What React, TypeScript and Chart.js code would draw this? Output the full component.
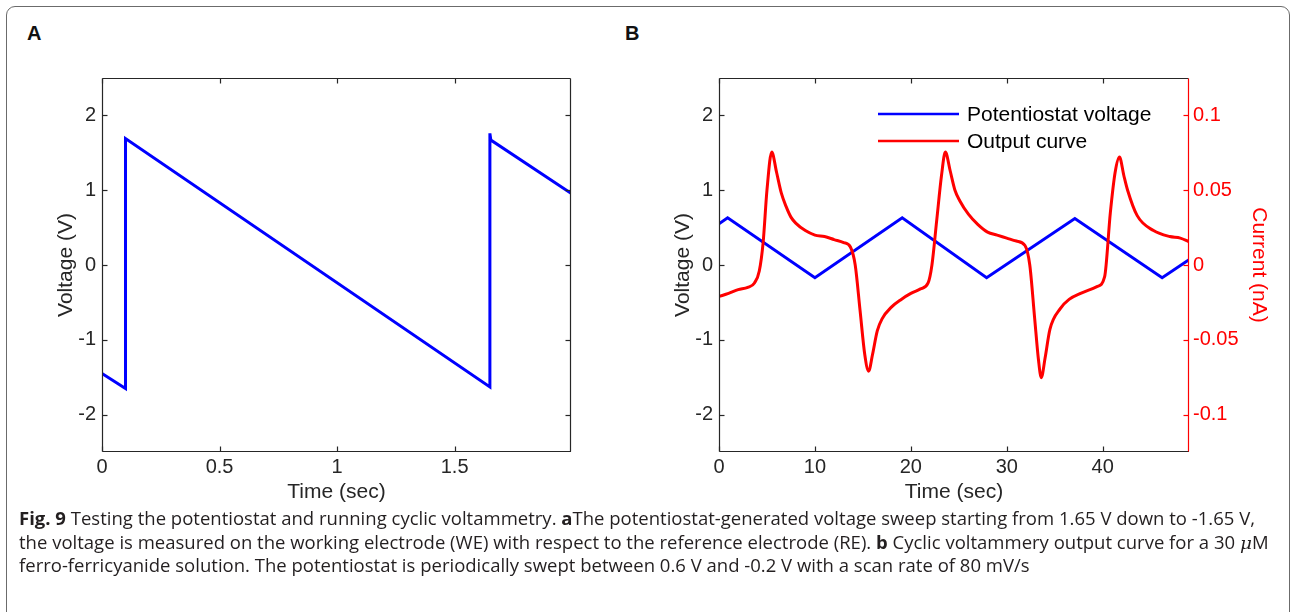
import React, { useEffect, useLayoutEffect, useRef } from 'react';
import { Chart, registerables } from 'chart.js';

Chart.register(...registerables);

// ---------- Panel A data ----------
const timeA = [0, 0.1, 0.1, 1.65, 1.65, 1.654, 1.995];
const voltA = [-1.45, -1.65, 1.69, -1.63, 1.76, 1.67, 0.96];
const xTicksA = [0, 0.5, 1, 1.5];
const xLabelsA = ['0', '0.5', '1', '1.5'];
const yTicksA = [-2, -1, 0, 1, 2];
const yLabelsA = ['-2', '-1', '0', '1', '2'];

// ---------- Panel B data ----------
const timeBV = [0, 0.9, 10, 19.1, 27.9, 37.1, 46.2, 49];
const voltB = [0.55, 0.63, -0.17, 0.63, -0.17, 0.62, -0.17, 0.07];
const timeBI = [0, 1, 2, 3, 3.7, 4.2, 4.6, 5.0, 5.5, 6.0, 6.5, 7.0, 7.5, 8.0, 9, 10, 11, 12, 13, 13.7,
  14.2, 14.7, 15.2, 15.6, 16.0, 16.5, 17, 18, 19, 20, 21, 21.8, 22.2, 22.7, 23.2, 23.6, 24.1, 24.6, 25.1, 26,
  27, 28, 29, 30, 31, 31.9, 32.4, 32.9, 33.3, 33.6, 34, 34.5, 35.6, 36.5, 37.7, 39.4, 40.2, 40.8, 41.3, 41.75,
  42.2, 42.6, 43.6, 45.3, 47, 48.1, 49];
const currentB = [-0.021, -0.019, -0.0165, -0.015, -0.012, -0.004, 0.015, 0.05, 0.0755, 0.062, 0.048, 0.039, 0.032, 0.028, 0.023, 0.02, 0.019, 0.017, 0.015, 0.012,
  0, -0.03, -0.06, -0.071, -0.06, -0.044, -0.036, -0.028, -0.023, -0.019, -0.016, -0.012, 0, 0.03, 0.06, 0.0755, 0.063, 0.05, 0.043, 0.034,
  0.027, 0.022, 0.02, 0.018, 0.016, 0.013, 0, -0.035, -0.063, -0.0753, -0.062, -0.043, -0.029, -0.023, -0.019, -0.0145, -0.008, 0.035, 0.062, 0.0722,
  0.06, 0.05, 0.033, 0.023, 0.019, 0.018, 0.0155];
const xTicksB = [0, 10, 20, 30, 40];
const xLabelsB = ['0', '10', '20', '30', '40'];
const yTicksB = [-2, -1, 0, 1, 2];
const yLabelsB = ['-2', '-1', '0', '1', '2'];
const y2TicksB = [-0.1, -0.05, 0, 0.05, 0.1];
const y2LabelsB = ['-0.1', '-0.05', '0', '0.05', '0.1'];
const seriesLabelsB = ['Potentiostat voltage', 'Output curve'];

const FONT = "'Liberation Sans', Arial, Helvetica, sans-serif";
const AXIS = '#262626';
const BLUE = '#0000ff';
const RED = '#ff0000';
const TICK_FONT = { family: FONT, size: 20 };
const TITLE_FONT = { family: FONT, size: 21 };

const setTicks = (vals: number[]) => (s: any) => {
  s.ticks = vals.map((v) => ({ value: v }));
};
const labelOf = (vals: number[], labels: string[]) => (v: any) => {
  const i = vals.findIndex((t) => Math.abs(t - Number(v)) < 1e-9);
  return i >= 0 ? labels[i] : '';
};

const framePlugin = {
  id: 'frame',
  afterDatasetsDraw(chart: any, _args: any, opts: any) {
    const { ctx, chartArea, scales } = chart;
    const L = Math.round(chartArea.left) + 0.5;
    const R = Math.round(chartArea.right) - 0.5;
    const T = Math.round(chartArea.top) + 0.5;
    const B = Math.round(chartArea.bottom) - 0.5;
    const tl = 5;
    ctx.save();
    ctx.lineWidth = 1.2;
    const seg = (x1: number, y1: number, x2: number, y2: number, c: string) => {
      ctx.strokeStyle = c;
      ctx.beginPath();
      ctx.moveTo(x1, y1);
      ctx.lineTo(x2, y2);
      ctx.stroke();
    };
    scales.x.ticks.forEach((t: any) => {
      const p = Math.round(scales.x.getPixelForValue(t.value)) + 0.5;
      seg(p, B, p, B - tl, AXIS);
      seg(p, T, p, T + tl, AXIS);
    });
    scales.y.ticks.forEach((t: any) => {
      const p = Math.round(scales.y.getPixelForValue(t.value)) + 0.5;
      seg(L, p, L + tl, p, AXIS);
      if (opts.mirrorY) seg(R, p, R - tl, p, AXIS);
    });
    if (scales.y2) {
      scales.y2.ticks.forEach((t: any) => {
        const p = Math.round(scales.y2.getPixelForValue(t.value)) + 0.5;
        seg(R, p, R - tl, p, RED);
      });
    }
    seg(L, T, R, T, AXIS);
    seg(L, B, R + 0.5, B, AXIS);
    seg(L, T, L, B, AXIS);
    seg(R, T, R, B, opts.rightColor || AXIS);
    ctx.restore();
  },
  afterDraw(chart: any, _args: any, opts: any) {
    if (!opts.legend) return;
    const { ctx } = chart;
    const lg = opts.legend;
    ctx.save();
    ctx.font = `21px ${FONT}`;
    ctx.textBaseline = 'middle';
    ctx.textAlign = 'left';
    chart.data.datasets.forEach((ds: any, i: number) => {
      const y = lg.y + i * lg.gap;
      ctx.strokeStyle = ds.borderColor;
      ctx.lineWidth = 2.5;
      ctx.beginPath();
      ctx.moveTo(lg.x, y);
      ctx.lineTo(lg.x + lg.len, y);
      ctx.stroke();
      ctx.fillStyle = '#000';
      ctx.fillText(ds.label, lg.x + lg.len + 8, y + 1);
    });
    ctx.restore();
  },
};

function PanelA() {
  const ref = useRef<HTMLCanvasElement>(null);
  useEffect(() => {
    const chart = new Chart(ref.current!, {
      type: 'line',
      data: {
        datasets: [
          {
            label: 'Voltage',
            data: timeA.map((t, i) => ({ x: t, y: voltA[i] })),
            borderColor: BLUE,
            borderWidth: 3,
            pointRadius: 0,
            tension: 0,
            fill: false,
          },
        ],
      },
      options: {
        animation: false,
        responsive: false,
        events: [],
        layout: { padding: { left: 54, top: 78, right: 75, bottom: 25 } },
        plugins: {
          legend: { display: false },
          tooltip: { enabled: false },
          frame: { mirrorY: true },
        } as any,
        scales: {
          x: {
            type: 'linear',
            min: 0,
            max: 1.995,
            afterBuildTicks: setTicks(xTicksA),
            afterFit: (s: any) => { s.height = 53; },
            ticks: { callback: labelOf(xTicksA, xLabelsA), font: TICK_FONT, color: AXIS, padding: 3, maxRotation: 0, autoSkip: false },
            grid: { display: false, drawTicks: false },
            border: { display: false },
            title: { display: true, text: 'Time (sec)', font: TITLE_FONT, color: AXIS, padding: 0 },
          },
          y: {
            type: 'linear',
            min: -2.5,
            max: 2.5,
            afterBuildTicks: setTicks(yTicksA),
            afterFit: (s: any) => { s.width = 48; },
            ticks: { callback: labelOf(yTicksA, yLabelsA), font: TICK_FONT, color: AXIS, padding: 6 },
            grid: { display: false, drawTicks: false },
            border: { display: false },
            title: { display: true, text: 'Voltage (V)', font: TITLE_FONT, color: AXIS, padding: 0 },
          },
        },
      } as any,
      plugins: [framePlugin as any],
    });
    return () => chart.destroy();
  }, []);
  return <canvas ref={ref} width={646} height={530} style={{ position: 'absolute', left: 0, top: 0, width: 646, height: 530 }} />;
}

function PanelB() {
  const ref = useRef<HTMLCanvasElement>(null);
  useEffect(() => {
    const chart = new Chart(ref.current!, {
      type: 'line',
      data: {
        datasets: [
          {
            label: seriesLabelsB[0],
            data: timeBV.map((t, i) => ({ x: t, y: voltB[i] })),
            borderColor: BLUE,
            borderWidth: 3,
            pointRadius: 0,
            tension: 0,
            fill: false,
            yAxisID: 'y',
            order: 1,
          },
          {
            label: seriesLabelsB[1],
            data: timeBI.map((t, i) => ({ x: t, y: currentB[i] })),
            borderColor: RED,
            borderWidth: 3,
            pointRadius: 0,
            cubicInterpolationMode: 'monotone',
            fill: false,
            yAxisID: 'y2',
            order: 0,
          },
        ],
      },
      options: {
        animation: false,
        responsive: false,
        events: [],
        layout: { padding: { left: 25, top: 78, right: 21, bottom: 25 } },
        plugins: {
          legend: { display: false },
          tooltip: { enabled: false },
          frame: { mirrorY: false, rightColor: RED, legend: { x: 232, y: 114, gap: 27, len: 81 } },
        } as any,
        scales: {
          x: {
            type: 'linear',
            min: 0,
            max: 49,
            afterBuildTicks: setTicks(xTicksB),
            afterFit: (s: any) => { s.height = 53; },
            ticks: { callback: labelOf(xTicksB, xLabelsB), font: TICK_FONT, color: AXIS, padding: 3, maxRotation: 0, autoSkip: false },
            grid: { display: false, drawTicks: false },
            border: { display: false },
            title: { display: true, text: 'Time (sec)', font: TITLE_FONT, color: AXIS, padding: 0 },
          },
          y: {
            type: 'linear',
            position: 'left',
            min: -2.5,
            max: 2.5,
            afterBuildTicks: setTicks(yTicksB),
            afterFit: (s: any) => { s.width = 48; },
            ticks: { callback: labelOf(yTicksB, yLabelsB), font: TICK_FONT, color: AXIS, padding: 6 },
            grid: { display: false, drawTicks: false },
            border: { display: false },
            title: { display: true, text: 'Voltage (V)', font: TITLE_FONT, color: AXIS, padding: 0 },
          },
          y2: {
            type: 'linear',
            position: 'right',
            min: -0.125,
            max: 0.125,
            afterBuildTicks: setTicks(y2TicksB),
            afterFit: (s: any) => { s.width = 82; },
            ticks: { callback: labelOf(y2TicksB, y2LabelsB), font: TICK_FONT, color: RED, padding: 4 },
            grid: { display: false, drawTicks: false },
            border: { display: false },
            title: { display: true, text: 'Current (nA)', font: TITLE_FONT, color: RED, padding: 0 },
          },
        },
      } as any,
      plugins: [framePlugin as any],
    });
    return () => chart.destroy();
  }, []);
  return <canvas ref={ref} width={646} height={530} style={{ position: 'absolute', left: 646, top: 0, width: 646, height: 530 }} />;
}

function Caption() {
  const ref = useRef<HTMLDivElement>(null);
  useLayoutEffect(() => {
    const el = ref.current;
    if (!el) return;
    const lines = Array.from(el.children) as HTMLElement[];
    lines.forEach((l) => (l.style.transform = 'none'));
    const w = lines[0].getBoundingClientRect().width;
    const s = 1236 / w;
    lines.forEach((l) => {
      l.style.transform = `scaleX(${s})`;
    });
  }, []);
  const lineStyle: React.CSSProperties = {
    display: 'block',
    width: 'max-content',
    whiteSpace: 'nowrap',
    transformOrigin: 'left center',
    height: 23.5,
    lineHeight: '23.5px',
  };
  return (
    <div
      ref={ref}
      style={{ position: 'absolute', left: 19, top: 507, fontFamily: "'Open Sans', 'Noto Sans', sans-serif", fontSize: 17.5, color: '#231f20' }}
    >
      <span style={lineStyle}>
        <b>Fig. 9</b> Testing the potentiostat and running cyclic voltammetry. <b>a</b>The potentiostat-generated voltage sweep starting from 1.65 V down to -1.65 V,
      </span>
      <span style={lineStyle}>
        the voltage is measured on the working electrode (WE) with respect to the reference electrode (RE). <b>b</b> Cyclic voltammery output curve for a 30&nbsp;<i style={{ fontFamily: "'DejaVu Serif', serif" }}>μ</i>M
      </span>
      <span style={lineStyle}>
        ferro-ferricyanide solution. The potentiostat is periodically swept between 0.6 V and -0.2 V with a scan rate of 80 mV/s
      </span>
    </div>
  );
}

export default function App() {
  return (
    <div style={{ position: 'fixed', left: 0, top: 0, width: 1292, height: 612, overflow: 'hidden', background: '#fff' }}>
      <div
        style={{
          position: 'absolute',
          left: 6,
          top: 6,
          width: 1284,
          height: 630,
          border: '1.5px solid #6b6b6b',
          borderRadius: 9,
          boxSizing: 'border-box',
        }}
      />
      <div style={{ position: 'absolute', left: 27, top: 22, fontFamily: FONT, fontWeight: 'bold', fontSize: 20, color: '#111' }}>A</div>
      <div style={{ position: 'absolute', left: 625, top: 22, fontFamily: FONT, fontWeight: 'bold', fontSize: 20, color: '#111' }}>B</div>
      <PanelA />
      <PanelB />
      <Caption />
    </div>
  );
}
